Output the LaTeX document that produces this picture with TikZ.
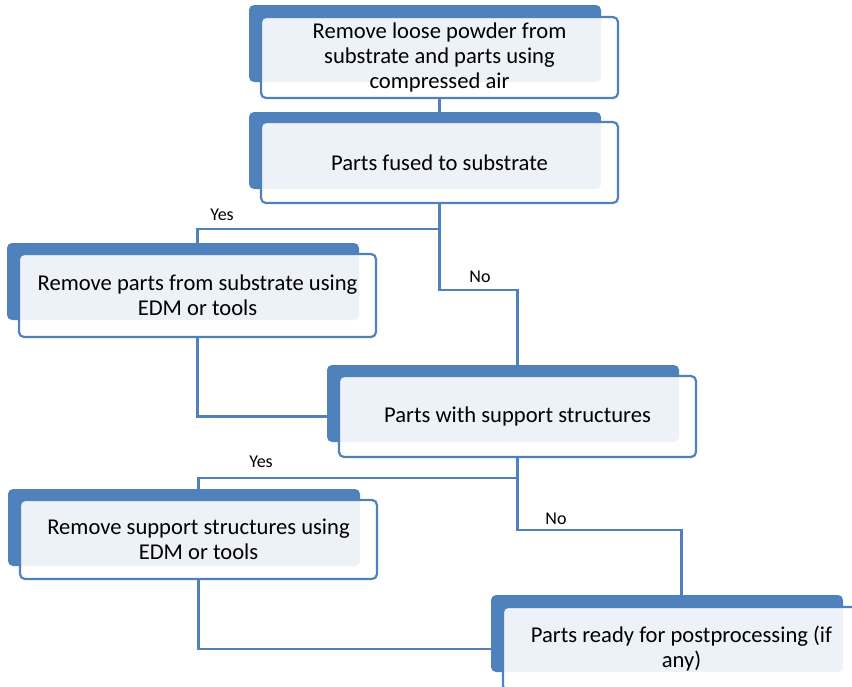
\documentclass[tikz,border=0pt]{standalone}
\usepackage{fontspec}
\setmainfont{Carlito}
\usetikzlibrary{backgrounds}
\definecolor{flowblue}{HTML}{4F81BD}

\begin{document}
\begin{tikzpicture}[x=1pt, y=-1pt,
    every node/.style={font=\fontsize{22.6}{25}\selectfont},
    tab/.style={fill=flowblue, rounded corners=5pt, anchor=north west, minimum width=352pt, minimum height=77pt, inner sep=0pt, outer sep=0pt},
    card/.style={draw=flowblue, line width=2.2pt, fill=white, fill opacity=0.9, text opacity=1, rounded corners=5pt, anchor=north west, minimum width=357pt, minimum height=81pt, align=center, inner sep=0pt, outer sep=0pt},
    link/.style={draw=flowblue, line width=2.2pt},
    answer/.style={font=\fontsize{18}{21}\selectfont}]
      \useasboundingbox (0,0) rectangle (852,686);
      \clip (0,0) rectangle (852,686);
      \node[tab] (t1) at (249, 5) {};
      \node[card] (c1) at (261, 17) {Remove loose powder from\\substrate and parts using\\compressed air};
      \node[tab] (t2) at (249, 112) {};
      \node[card] (c2) at (261, 122) {Parts fused to substrate};
      \node[tab] (t3) at (7, 243) {};
      \node[card, minimum height=83pt] (c3) at (19, 254) {Remove parts from substrate using\\EDM or tools};
      \node[tab] (t4) at (327, 365) {};
      \node[card] (c4) at (339, 376) {Parts with support structures};
      \node[tab] (t5) at (8, 489) {};
      \node[card, minimum height=79pt] (c5) at (20, 500) {Remove support structures using\\EDM or tools};
      \node[tab] (t6) at (491, 595) {};
      \node[card, minimum height=84pt] (c6) at (503, 607) {Parts ready for postprocessing (if\\any)};
      \begin{scope}[on background layer]
        \draw[link] (c1.south) -- (c1.south |- t2.north);
        \draw[link] (c2.south) -- ++(0,26) -| (c3.south |- t3.north);
        \draw[link] (c2.south) -- ++(0,87) -| (c4.south |- t4.north);
        \draw[link] (c3.south) |- (c4.west);
        \draw[link] (c4.south) -- ++(0,21) -| (c5.south |- t5.north);
        \draw[link] (c4.south) -- ++(0,73) -| (c6.south |- t6.north);
        \draw[link] (c5.south) |- (c6.west);
      \end{scope}
      \node[answer] (yes1) at (222, 215) {Yes};
      \node[answer] (no1) at (480, 277) {No};
      \node[answer] (yes2) at (261, 462) {Yes};
      \node[answer] (no2) at (556, 519) {No};
    \end{tikzpicture}
\end{document}
